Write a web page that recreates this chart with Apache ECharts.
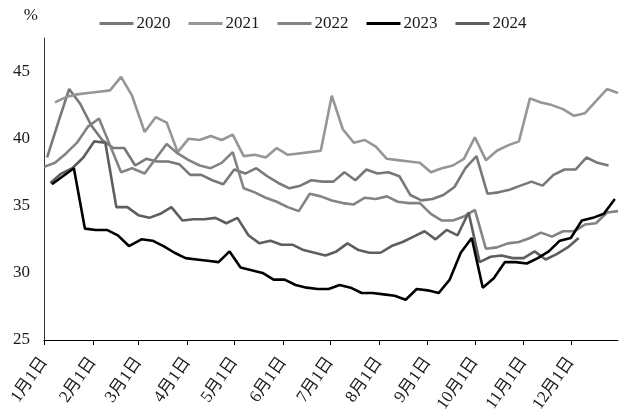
<!DOCTYPE html>
<html>
<head>
<meta charset="utf-8">
<script src="https://cdn.jsdelivr.net/npm/echarts@6/dist/echarts.min.js"></script>
<style>
  html, body { margin: 0; padding: 0; background: #fff; }
  #chart { width: 626px; height: 416px; }
</style>
</head>
<body>
<div id="chart"></div>
<script>
// ---- data ----
const years = ['2020', '2021', '2022', '2023', '2024'];
const startDates = ['2020-01-03', '2021-01-08', '2022-01-01', '2023-01-06', '2024-01-05'];
const monthStartDays = [0, 31, 60, 91, 121, 152, 182, 213, 244, 274, 305, 335];
const tickLabels = ['1月1日', '2月1日', '3月1日', '4月1日', '5月1日', '6月1日',
                    '7月1日', '8月1日', '9月1日', '10月1日', '11月1日', '12月1日'];
const yTicks = [25, 30, 35, 40, 45];

const values2020 = [38.6, 41.2, 43.7, 42.6, 41.0, 39.9, 39.3, 39.3, 38.0, 38.5,
  38.3, 38.3, 38.1, 37.3, 37.3, 36.9, 36.6, 37.7, 37.4, 37.8,
  37.2, 36.7, 36.3, 36.5, 36.9, 36.8, 36.8, 37.5, 36.9, 37.7,
  37.4, 37.5, 37.2, 35.8, 35.4, 35.5, 35.8, 36.4, 37.8, 38.7,
  35.9, 36.0, 36.2, 36.5, 36.8, 36.5, 37.3, 37.7, 37.7, 38.6,
  38.2, 38.0];
const values2021 = [42.7, 43.1, 43.3, 43.4, 43.5, 43.6, 44.6, 43.2, 40.5, 41.6,
  41.2, 39.0, 40.0, 39.9, 40.2, 39.9, 40.3, 38.7, 38.8, 38.6,
  39.3, 38.8, 38.9, 39.0, 39.1, 43.2, 40.7, 39.7, 39.9, 39.4,
  38.5, 38.4, 38.3, 38.2, 37.5, 37.8, 38.0, 38.5, 40.1, 38.4,
  39.1, 39.5, 39.8, 43.0, 42.7, 42.5, 42.2, 41.7, 41.9, 42.8,
  43.7, 43.4];
const values2022 = [37.9, 38.2, 38.9, 39.7, 40.9, 41.5, 39.5, 37.5, 37.8, 37.4,
  38.5, 39.6, 38.9, 38.4, 38.0, 37.8, 38.2, 39.0, 36.3, 36.0,
  35.6, 35.3, 34.9, 34.6, 35.9, 35.7, 35.4, 35.2, 35.1, 35.6,
  35.5, 35.7, 35.3, 35.2, 35.2, 34.4, 33.9, 33.9, 34.2, 34.7,
  31.8, 31.9, 32.2, 32.3, 32.6, 33.0, 32.7, 33.1, 33.1, 33.6,
  33.7, 34.5, 34.6];
const values2023 = [36.6, 37.2, 37.8, 33.3, 33.2, 33.2, 32.8, 32.0, 32.5, 32.4,
  32.0, 31.5, 31.1, 31.0, 30.9, 30.8, 31.6, 30.4, 30.2, 30.0,
  29.5, 29.5, 29.1, 28.9, 28.8, 28.8, 29.1, 28.9, 28.5, 28.5,
  28.4, 28.3, 28.0, 28.8, 28.7, 28.5, 29.5, 31.5, 32.6, 28.9,
  29.6, 30.8, 30.8, 30.7, 31.1, 31.6, 32.4, 32.6, 33.9, 34.1,
  34.4, 35.5];
const values2024 = [36.7, 37.4, 37.8, 38.6, 39.8, 39.7, 34.9, 34.9, 34.3, 34.1,
  34.4, 34.9, 33.9, 34.0, 34.0, 34.1, 33.7, 34.1, 32.8, 32.2,
  32.4, 32.1, 32.1, 31.7, 31.5, 31.3, 31.6, 32.2, 31.7, 31.5,
  31.5, 32.0, 32.3, 32.7, 33.1, 32.5, 33.2, 32.8, 34.5, 30.8,
  31.2, 31.3, 31.1, 31.1, 31.6, 31.0, 31.4, 31.9, 32.6];
const allValues = [values2020, values2021, values2022, values2023, values2024];

// ---- build ----
const colors = ['#787878', '#969696', '#838383', '#000000', '#5e5e5e'];
const DAY = 86400000;
// weekly observations; x = position of the date's month/day within a common (leap) year
function weeklyPoints(start, vals) {
  const [y, m, d] = start.split('-').map(Number);
  const t0 = Date.UTC(y, m - 1, d);
  return vals.map((v, i) => {
    const dt = new Date(t0 + i * 7 * DAY);
    const off = (Date.UTC(2020, dt.getUTCMonth(), dt.getUTCDate()) - Date.UTC(2020, 0, 1)) / DAY;
    return [off, v];
  });
}

const FONT = "'Liberation Serif', 'Noto Sans CJK SC', serif";
const chart = echarts.init(document.getElementById('chart'), null, { renderer: 'canvas' });
chart.setOption({
  animation: false,
  backgroundColor: '#ffffff',
  textStyle: { fontFamily: FONT, color: '#1a1a1a' },
  legend: {
    top: 10, left: 'center',
    icon: 'rect',
    itemWidth: 34, itemHeight: 3, itemGap: 18,
    textStyle: { fontFamily: FONT, fontSize: 17, color: '#1a1a1a', padding: [0, 0, 0, -2] },
    data: years
  },
  grid: { left: 44, right: 8, top: 38, bottom: 76, containLabel: false },
  xAxis: {
    type: 'value', min: 0, max: 365,
    axisLine: { show: true, lineStyle: { color: '#000', width: 1 } },
    axisTick: { show: true, customValues: monthStartDays, length: 5, lineStyle: { color: '#000' } },
    axisLabel: {
      customValues: monthStartDays, rotate: 55, margin: 19,
      fontFamily: FONT, fontSize: 17, color: '#1a1a1a',
      formatter: v => tickLabels[monthStartDays.indexOf(v)]
    },
    splitLine: { show: false }
  },
  yAxis: {
    type: 'value', min: 25, max: 47.5,
    name: '%', nameLocation: 'end', nameGap: 14,
    nameTextStyle: { fontFamily: FONT, fontSize: 17, color: '#1a1a1a', align: 'right', verticalAlign: 'bottom', padding: [0, 6, 0, 0] },
    axisLine: { show: true, lineStyle: { color: '#333', width: 1 } },
    axisTick: { show: false },
    axisLabel: { customValues: yTicks, fontFamily: FONT, fontSize: 17, color: '#1a1a1a', margin: 14 },
    splitLine: { show: false }
  },
  series: years.map((yr, k) => ({
    name: yr, type: 'line', symbol: 'none',
    data: weeklyPoints(startDates[k], allValues[k]),
    lineStyle: { width: 2.6, color: colors[k] },
    itemStyle: { color: colors[k] },
    z: k === 3 ? 5 : 2
  }))
});
</script>
</body>
</html>
